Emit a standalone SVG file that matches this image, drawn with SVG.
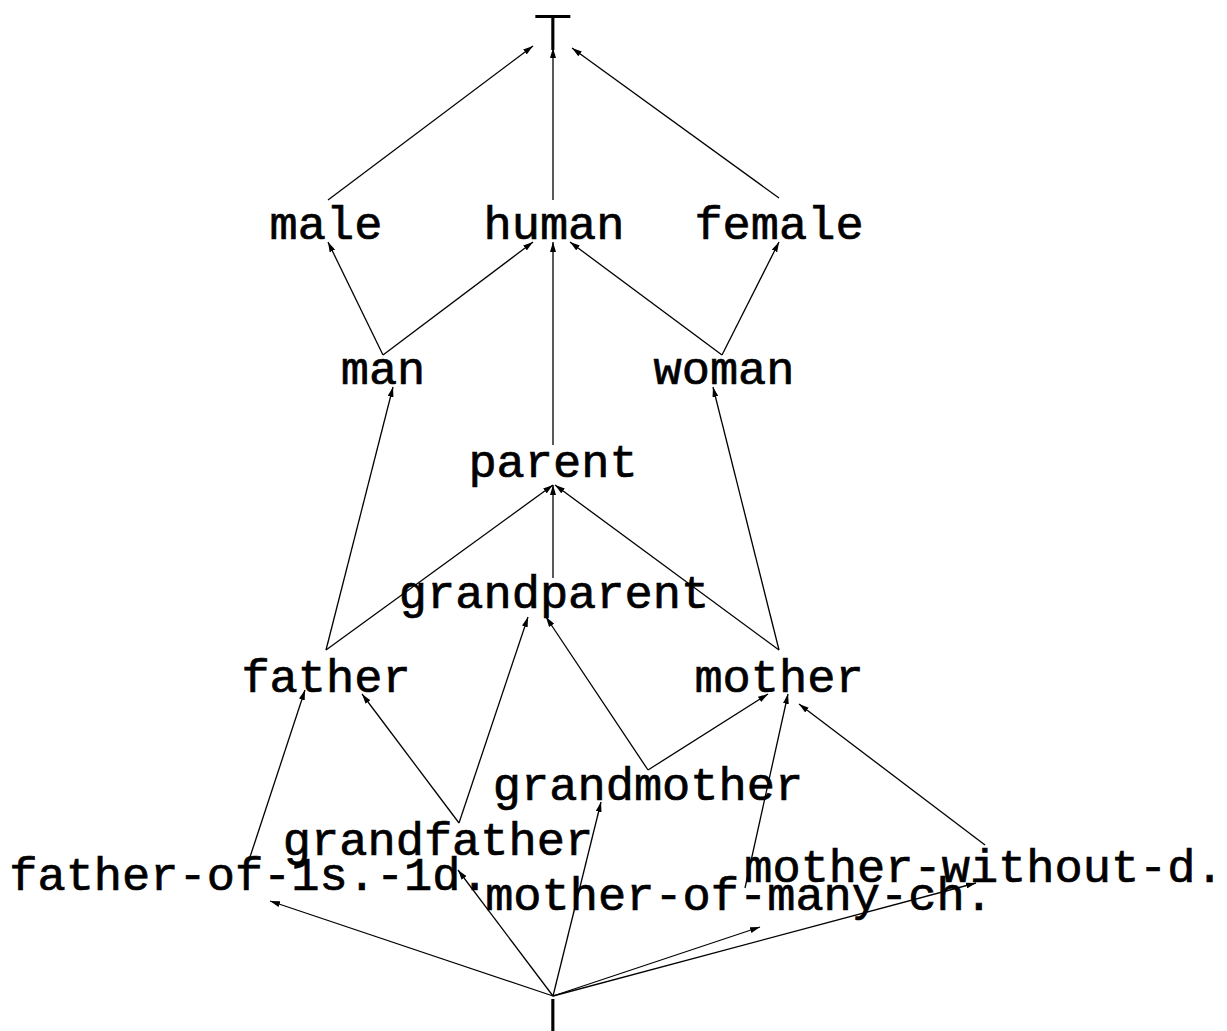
<svg xmlns="http://www.w3.org/2000/svg" width="1227" height="1031" viewBox="0 0 1227 1031">
<style>
.lbl{font-family:"Liberation Mono","DejaVu Sans Mono",monospace;font-size:47px;fill:#000;stroke:#000;stroke-width:0.7;text-anchor:middle}
.sym{font-family:"DejaVu Sans",sans-serif;font-size:50px;fill:#000;text-anchor:middle}
.e line{stroke:#000;stroke-width:1.3;fill:none;marker-end:url(#ah)}
</style>
<defs>
<marker id="ah" viewBox="0 0 10 6" refX="10" refY="3" markerWidth="10" markerHeight="6" markerUnits="userSpaceOnUse" orient="auto">
<path d="M0,0 L10,3 L0,6 Z" fill="#000"/>
</marker>
</defs>
<rect width="1227" height="1031" fill="#fff"/>
<g id="edges" class="e">
<line x1="328" y1="200" x2="533" y2="46"/>
<line x1="553" y1="200" x2="553" y2="48"/>
<line x1="779" y1="198" x2="572" y2="48"/>
<line x1="383" y1="355" x2="328" y2="242"/>
<line x1="383" y1="355" x2="533" y2="242"/>
<line x1="553" y1="445" x2="553" y2="242"/>
<line x1="722" y1="355" x2="570" y2="242"/>
<line x1="722" y1="355" x2="779" y2="242"/>
<line x1="326" y1="650" x2="393" y2="387"/>
<line x1="326" y1="650" x2="553" y2="485"/>
<line x1="553" y1="578" x2="553" y2="485"/>
<line x1="779" y1="650" x2="555" y2="485"/>
<line x1="779" y1="650" x2="713" y2="387"/>
<line x1="459" y1="823" x2="362" y2="694"/>
<line x1="459" y1="823" x2="528" y2="617"/>
<line x1="648" y1="770" x2="546" y2="617"/>
<line x1="648" y1="770" x2="768" y2="694"/>
<line x1="250" y1="857" x2="305" y2="690"/>
<line x1="745" y1="888" x2="788" y2="694"/>
<line x1="985" y1="845" x2="799" y2="704"/>
<line x1="553" y1="996" x2="270" y2="901"/>
<line x1="553" y1="996" x2="458" y2="870"/>
<line x1="553" y1="996" x2="601" y2="802"/>
<line x1="553" y1="996" x2="760" y2="927"/>
<line x1="553" y1="996" x2="976" y2="883"/>
</g>
<g id="top"><text class="sym" x="553" y="50">⊤</text></g>
<g id="bottom"><text class="sym" x="553" y="1034">⊥</text></g>
<g id="male"><text class="lbl" x="326" y="239">male</text></g>
<g id="human"><text class="lbl" x="554" y="239">human</text></g>
<g id="female"><text class="lbl" x="779" y="239">female</text></g>
<g id="man"><text class="lbl" x="383" y="384">man</text></g>
<g id="woman"><text class="lbl" x="724" y="384">woman</text></g>
<g id="parent"><text class="lbl" x="553" y="477">parent</text></g>
<g id="grandparent"><text class="lbl" x="554" y="608">grandparent</text></g>
<g id="father"><text class="lbl" x="326" y="692">father</text></g>
<g id="mother"><text class="lbl" x="779" y="692">mother</text></g>
<g id="grandmother"><text class="lbl" x="648" y="800">grandmother</text></g>
<g id="grandfather"><text class="lbl" x="438" y="855">grandfather</text></g>
<g id="father-of-1s-1d"><text class="lbl" x="249" y="890">father-of-1s.-1d.</text></g>
<g id="mother-of-many-ch"><text class="lbl" x="739" y="910">mother-of-many-ch.</text></g>
<g id="mother-without-d"><text class="lbl" x="984" y="882">mother-without-d.</text></g>
</svg>
